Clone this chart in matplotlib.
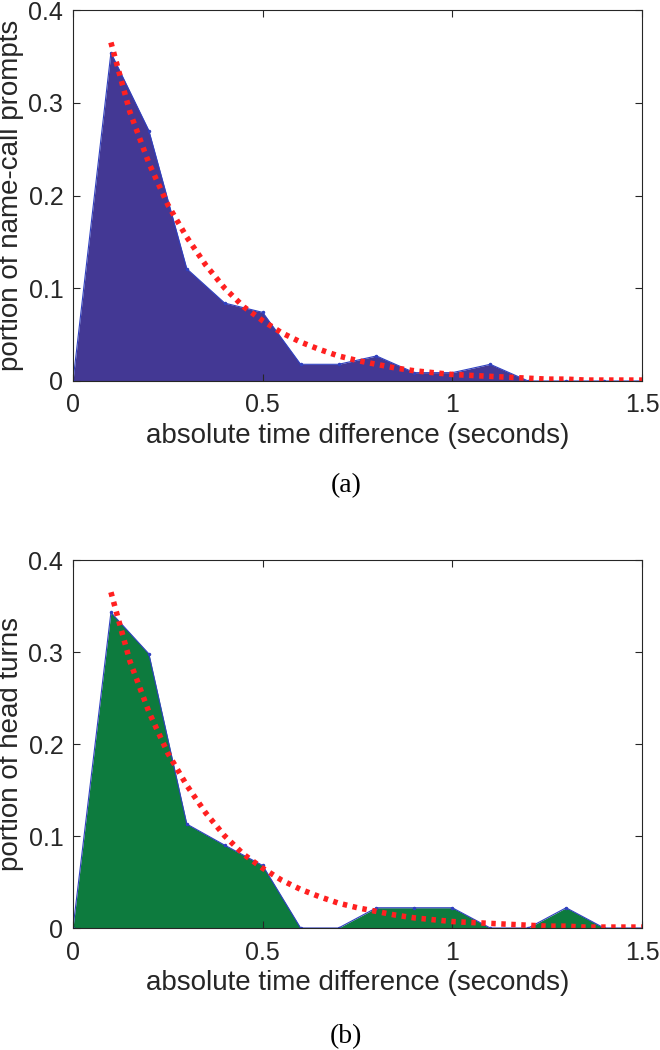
import matplotlib.pyplot as plt

# data
t_bins = [0.0, 0.1, 0.2, 0.3, 0.4, 0.5, 0.6, 0.7, 0.8, 0.9, 1.0, 1.1, 1.2, 1.3, 1.4, 1.5]
name_call = [0.0, 0.354, 0.27, 0.121, 0.084, 0.074, 0.018, 0.018, 0.027, 0.009, 0.009, 0.018, 0.0, 0.0, 0.0, 0.0]
head_turn = [0.0, 0.343, 0.298, 0.113, 0.09, 0.068, 0.0, 0.0, 0.022, 0.022, 0.022, 0.0, 0.0, 0.022, 0.0, 0.0]

t_fit = [0.1, 0.15, 0.2, 0.25, 0.3, 0.35, 0.4, 0.45, 0.5, 0.55, 0.6, 0.65, 0.7, 0.75, 0.8,
         0.85, 0.9, 0.95, 1.0, 1.05, 1.1, 1.15, 1.2, 1.25, 1.3, 1.35, 1.4, 1.45, 1.5]
fit_vals = [0.365, 0.29, 0.235, 0.19, 0.155, 0.125, 0.1, 0.08, 0.065, 0.052, 0.042, 0.034, 0.027,
            0.022, 0.018, 0.014, 0.011, 0.009, 0.007, 0.006, 0.005, 0.004, 0.003, 0.002, 0.002,
            0.001, 0.001, 0.001, 0.001]

panels = [
    ("portion of name-call prompts", name_call, "#433894", "(a)"),
    ("portion of head turns", head_turn, "#0d7b3e", "(b)"),
]

plt.rcParams.update({
    "font.family": ["Liberation Sans", "DejaVu Sans"],
    "font.size": 18,
})

fig = plt.figure(figsize=(6.6, 10.5), dpi=100)
W, H = 660, 1050
boxes = [(73, 10, 642, 381), (73, 560, 642, 928)]
captions_y = [486, 1037]
ink = "#262626"

for (ylabel, vals, color, cap), (x0, y0, x1, y1), cy in zip(panels, boxes, captions_y):
    ax = fig.add_axes([x0 / W, 1 - y1 / H, (x1 - x0) / W, (y1 - y0) / H])
    ax.fill_between(t_bins, vals, 0, color=color, linewidth=0)
    ax.plot(t_bins, vals, color="#3040c0", linewidth=0.8, marker=".", markersize=3)
    ax.plot(t_fit, fit_vals, color="#ff2020", linestyle=(0, (0.8, 1.0)), linewidth=4)

    ax.set_xlim(0, 1.5)
    ax.set_ylim(0, 0.4)
    ax.set_xticks([0, 0.5, 1, 1.5], labels=["0", "0.5", "1", "1.5"])
    ax.set_yticks([0, 0.1, 0.2, 0.3, 0.4], labels=["0", "0.1", "0.2", "0.3", "0.4"])
    ax.tick_params(direction="in", top=True, right=True, length=5, colors=ink,
                   labelcolor=ink)
    ax.tick_params(axis="x", pad=9)
    ax.tick_params(axis="y", pad=7)
    for s in ax.spines.values():
        s.set_color(ink)
        s.set_linewidth(0.8)
    ax.set_xlabel("absolute time difference (seconds)", color=ink, fontsize=20, labelpad=4)
    ax.set_ylabel(ylabel, color=ink, fontsize=20, labelpad=3)

    fig.text(346 / W, 1 - cy / H, cap, ha="center", va="center",
             family=["Liberation Serif", "DejaVu Serif"], fontsize=20)

fig.savefig("out.png", dpi=100)
